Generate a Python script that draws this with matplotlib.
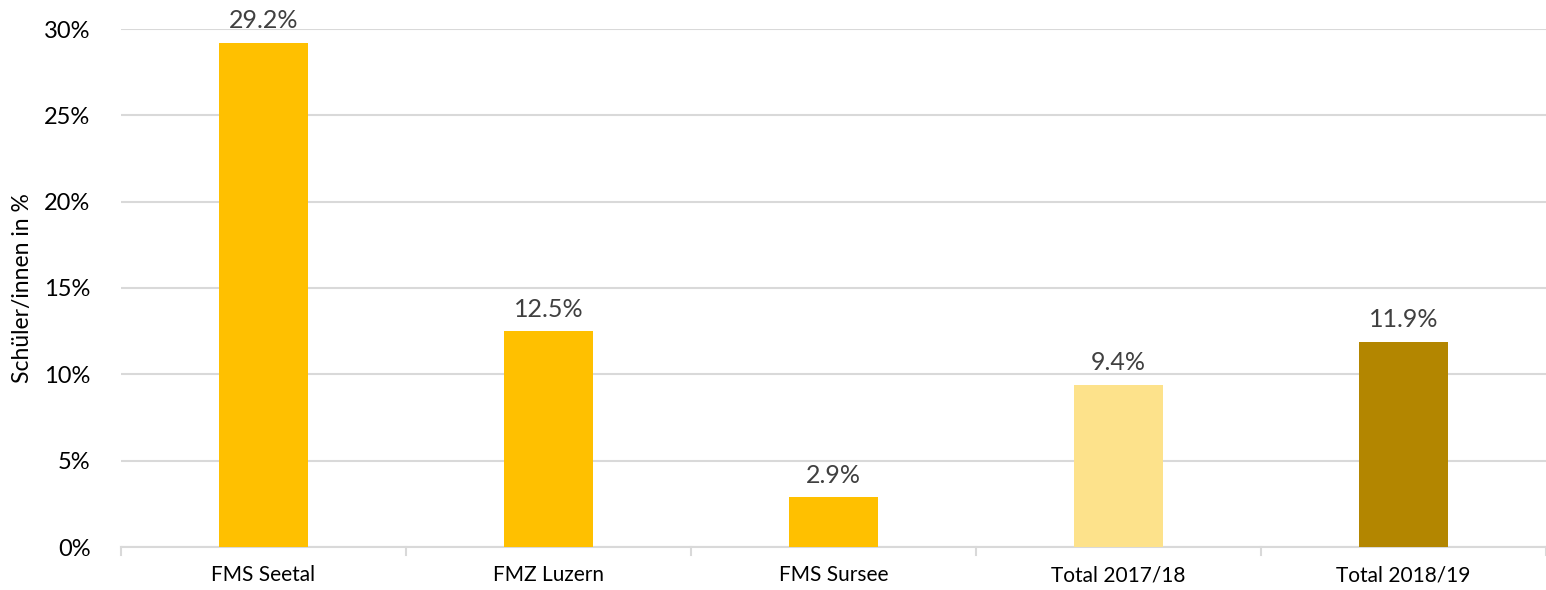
import matplotlib.pyplot as plt
import numpy as np

categories = ["FMS Seetal", "FMZ Luzern", "FMS Sursee", "Total 2017/18", "Total 2018/19"]
values = [29.2, 12.5, 2.9, 9.4, 11.9]
colors = ["#FFC000", "#FFC000", "#FFC000", "#FDE28B", "#B38600"]
yticks = [0, 5, 10, 15, 20, 25, 30]

plt.rcParams['font.family'] = ['Lato', 'DejaVu Sans']

fig = plt.figure(figsize=(15.46, 5.9), dpi=100)
ax = fig.add_axes([121/1546, 43/590, 1 - 121/1546, 518/590])

x = np.arange(len(categories))
ax.bar(x, values, width=0.31, color=colors, zorder=3)
for xi, v in zip(x, values):
    ax.text(xi, v + 0.6, f"{v:.1f}%", ha="center", va="bottom", fontsize=18, color="#404040")

ax.set_xlim(-0.5, len(categories) - 0.5)
ax.set_ylim(0, 30)
ax.set_yticks(yticks)
ax.set_yticklabels([f"{t}%" for t in yticks], fontsize=17)
ax.set_xticks(x)
ax.set_xticklabels(categories, fontsize=15)
ax.tick_params(axis="y", length=0, pad=22)
ax.tick_params(axis="x", length=0, pad=13)

# boundary tick marks on the category axis
for b in np.arange(-0.5, len(categories), 1.0):
    ax.plot([b, b], [0, -0.45], color="#D9D9D9", lw=1.5, clip_on=False, zorder=2)

ax.grid(axis="y", color="#D9D9D9", lw=1.5, zorder=0)
for s in ["top", "right", "left"]:
    ax.spines[s].set_visible(False)
ax.spines["bottom"].set_color("#D9D9D9")
ax.spines["bottom"].set_linewidth(1.5)

ax.set_ylabel("Schüler/innen in %", fontsize=16.5, labelpad=8)

fig.savefig("out.png", dpi=100)
